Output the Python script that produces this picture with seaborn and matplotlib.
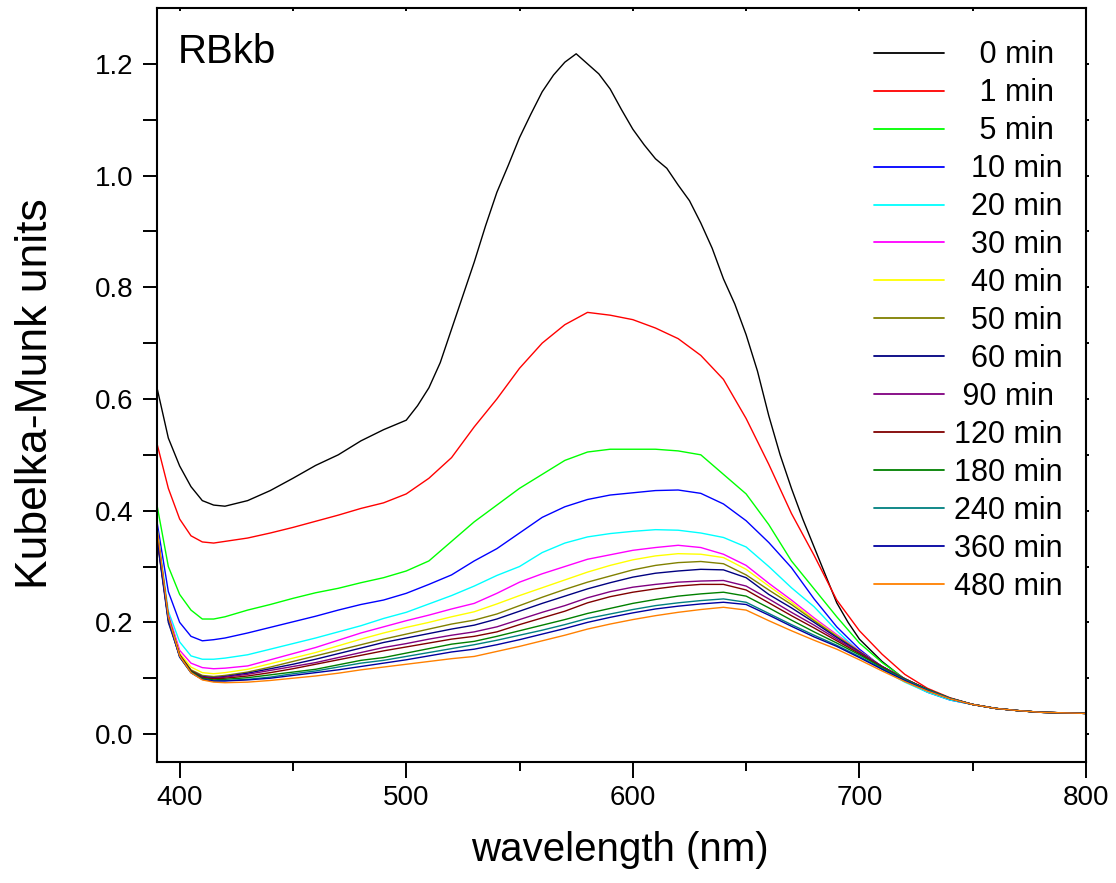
import numpy as np
import pandas as pd
import matplotlib
matplotlib.use("Agg")
import matplotlib.pyplot as plt
import seaborn as sns

# ---------------- data ----------------
wavelength = [390, 395, 400, 405, 410, 415, 420, 430, 440, 450, 460, 470, 480, 490,
              500, 510, 520, 530, 540, 550, 560, 570, 580, 590, 600, 610, 620, 630,
              640, 650, 660, 670, 680, 690, 700, 710, 720, 730, 740, 750, 760, 770,
              780, 790, 800]

# finer sampling for the strongly peaked 0 min spectrum
wavelength_0 = [390, 395, 400, 405, 410, 415, 420, 430, 440, 450, 460, 470, 480, 490,
                500, 505, 510, 515, 520, 525, 530, 535, 540, 545, 550, 555, 560, 565,
                570, 575, 580, 585, 590, 595, 600, 605, 610, 615, 620, 625, 630, 635,
                640, 645, 650, 655, 660, 665, 670, 675, 680, 685, 690, 695, 700, 710,
                720, 730, 740, 750, 760, 770, 780, 790, 800]

labels = ["   0 min", "   1 min", "   5 min", "  10 min", "  20 min", "  30 min",
          "  40 min", "  50 min", "  60 min", " 90 min", "120 min", "180 min",
          "240 min", "360 min", "480 min"]

tail = [0.053, 0.046, 0.042, 0.039, 0.038, 0.037]

km_0 = [0.62, 0.53, 0.48, 0.443, 0.418, 0.41, 0.408, 0.418, 0.436, 0.458, 0.481, 0.50,
        0.525, 0.545, 0.562, 0.588, 0.62, 0.665, 0.725, 0.785, 0.845, 0.91, 0.97, 1.018,
        1.068, 1.11, 1.15, 1.18, 1.203, 1.218, 1.20, 1.182, 1.155, 1.118, 1.083, 1.055,
        1.03, 1.013, 0.983, 0.955, 0.915, 0.87, 0.815, 0.77, 0.715, 0.65, 0.57, 0.50,
        0.44, 0.385, 0.335, 0.285, 0.235, 0.20, 0.17, 0.13, 0.098, 0.077, 0.062] + tail
km_1 = [0.52, 0.44, 0.385, 0.355, 0.344, 0.342, 0.345, 0.351, 0.36, 0.37, 0.381, 0.392,
        0.404, 0.414, 0.43, 0.458, 0.495, 0.55, 0.60, 0.655, 0.70, 0.733, 0.755, 0.75,
        0.742, 0.727, 0.708, 0.678, 0.635, 0.565, 0.483, 0.395, 0.32, 0.24, 0.185,
        0.143, 0.107, 0.082, 0.065] + tail
km_5 = [0.41, 0.30, 0.25, 0.222, 0.206, 0.206, 0.21, 0.222, 0.232, 0.243, 0.253, 0.261,
        0.271, 0.28, 0.292, 0.31, 0.345, 0.38, 0.41, 0.44, 0.465, 0.49, 0.505, 0.51,
        0.51, 0.51, 0.507, 0.50, 0.465, 0.43, 0.375, 0.31, 0.26, 0.21, 0.163, 0.128,
        0.099, 0.078, 0.063] + tail
km_10 = [0.38, 0.255, 0.20, 0.175, 0.167, 0.169, 0.172, 0.181, 0.191, 0.201, 0.211, 0.222,
         0.232, 0.24, 0.252, 0.268, 0.285, 0.31, 0.332, 0.36, 0.388, 0.407, 0.42, 0.428,
         0.432, 0.436, 0.437, 0.431, 0.412, 0.382, 0.343, 0.298, 0.242, 0.192, 0.152,
         0.12, 0.095, 0.075, 0.061] + tail
km_20 = [0.37, 0.22, 0.165, 0.14, 0.134, 0.134, 0.136, 0.142, 0.152, 0.162, 0.172, 0.183,
         0.194, 0.207, 0.218, 0.233, 0.248, 0.265, 0.284, 0.30, 0.325, 0.342, 0.353, 0.359,
         0.363, 0.366, 0.365, 0.36, 0.352, 0.335, 0.30, 0.262, 0.228, 0.185, 0.147,
         0.116, 0.093, 0.075, 0.061] + tail
km_30 = [0.36, 0.215, 0.15, 0.127, 0.119, 0.117, 0.118, 0.122, 0.133, 0.144, 0.155, 0.168,
         0.181, 0.192, 0.203, 0.213, 0.224, 0.234, 0.252, 0.272, 0.287, 0.30, 0.313, 0.321,
         0.329, 0.334, 0.338, 0.334, 0.322, 0.302, 0.27, 0.24, 0.208, 0.178, 0.149, 0.121,
         0.099, 0.08, 0.064] + tail
km_40 = [0.355, 0.21, 0.145, 0.12, 0.11, 0.108, 0.11, 0.116, 0.126, 0.136, 0.146, 0.158,
         0.17, 0.181, 0.191, 0.20, 0.21, 0.219, 0.233, 0.248, 0.262, 0.276, 0.29, 0.302,
         0.312, 0.319, 0.323, 0.322, 0.316, 0.295, 0.265, 0.236, 0.205, 0.176, 0.148,
         0.121, 0.099, 0.08, 0.064] + tail
km_50 = [0.35, 0.205, 0.142, 0.115, 0.105, 0.103, 0.105, 0.111, 0.12, 0.13, 0.14, 0.15,
         0.16, 0.17, 0.179, 0.188, 0.197, 0.204, 0.215, 0.23, 0.245, 0.259, 0.272, 0.283,
         0.294, 0.302, 0.307, 0.309, 0.305, 0.285, 0.258, 0.232, 0.203, 0.175, 0.148,
         0.121, 0.099, 0.08, 0.064] + tail
km_60 = [0.35, 0.20, 0.14, 0.113, 0.103, 0.101, 0.103, 0.109, 0.117, 0.125, 0.134, 0.144,
         0.154, 0.164, 0.172, 0.18, 0.188, 0.195, 0.206, 0.22, 0.234, 0.247, 0.26, 0.271,
         0.281, 0.288, 0.292, 0.295, 0.294, 0.28, 0.25, 0.226, 0.20, 0.173, 0.147, 0.121,
         0.099, 0.08, 0.064] + tail
km_90 = [0.355, 0.205, 0.14, 0.113, 0.102, 0.10, 0.102, 0.107, 0.114, 0.121, 0.128, 0.137,
         0.146, 0.155, 0.162, 0.17, 0.177, 0.183, 0.192, 0.205, 0.218, 0.23, 0.244, 0.255,
         0.263, 0.268, 0.272, 0.274, 0.275, 0.265, 0.242, 0.218, 0.195, 0.17, 0.146,
         0.121, 0.099, 0.08, 0.064] + tail
km_120 = [0.36, 0.21, 0.142, 0.113, 0.101, 0.099, 0.10, 0.104, 0.11, 0.117, 0.125, 0.133,
          0.141, 0.149, 0.156, 0.163, 0.17, 0.175, 0.183, 0.196, 0.208, 0.22, 0.235, 0.246,
          0.254, 0.26, 0.265, 0.268, 0.268, 0.258, 0.235, 0.212, 0.19, 0.167, 0.144,
          0.12, 0.098, 0.08, 0.064] + tail
km_180 = [0.365, 0.21, 0.14, 0.112, 0.10, 0.097, 0.098, 0.101, 0.106, 0.111, 0.116, 0.124,
          0.132, 0.137, 0.145, 0.153, 0.161, 0.166, 0.175, 0.185, 0.195, 0.205, 0.216,
          0.225, 0.234, 0.241, 0.247, 0.251, 0.254, 0.247, 0.226, 0.204, 0.183, 0.163,
          0.142, 0.119, 0.098, 0.08, 0.064] + tail
km_240 = [0.36, 0.205, 0.138, 0.11, 0.098, 0.095, 0.096, 0.098, 0.102, 0.108, 0.113, 0.12,
          0.127, 0.132, 0.139, 0.146, 0.153, 0.16, 0.168, 0.177, 0.186, 0.196, 0.207,
          0.215, 0.223, 0.23, 0.235, 0.239, 0.242, 0.236, 0.216, 0.196, 0.177, 0.159,
          0.139, 0.117, 0.097, 0.079, 0.064] + tail
km_360 = [0.355, 0.205, 0.138, 0.11, 0.098, 0.095, 0.095, 0.097, 0.10, 0.105, 0.11, 0.115,
          0.121, 0.127, 0.133, 0.14, 0.147, 0.152, 0.16, 0.169, 0.179, 0.189, 0.20, 0.209,
          0.217, 0.224, 0.229, 0.233, 0.236, 0.232, 0.213, 0.193, 0.174, 0.157, 0.137,
          0.116, 0.096, 0.078, 0.063] + tail
km_480 = [0.37, 0.21, 0.14, 0.11, 0.097, 0.093, 0.092, 0.093, 0.096, 0.10, 0.104, 0.109,
          0.115, 0.12, 0.125, 0.13, 0.135, 0.139, 0.148, 0.157, 0.167, 0.177, 0.188, 0.197,
          0.205, 0.212, 0.218, 0.223, 0.227, 0.222, 0.203, 0.185, 0.168, 0.152, 0.133,
          0.113, 0.094, 0.077, 0.063] + tail

series = [km_0, km_1, km_5, km_10, km_20, km_30, km_40, km_50, km_60, km_90,
          km_120, km_180, km_240, km_360, km_480]
grids = [wavelength_0] + [wavelength] * 14

colors = ["#000000", "#FF0000", "#00FF00", "#0000FF", "#00FFFF", "#FF00FF", "#FFFF00",
          "#808000", "#000080", "#800080", "#800000", "#008000", "#008080", "#0000A0",
          "#FF8000"]

# ---------------- long-form table ----------------
frames = []
for lab, wl, vals in zip(labels, grids, series):
    frames.append(pd.DataFrame({"wavelength": wl, "km": vals, "time": lab}))
df = pd.concat(frames, ignore_index=True)

# ---------------- plotting ----------------
sns.set_theme(style="ticks")
plt.rcParams["font.family"] = ["Liberation Sans", "DejaVu Sans"]
for k in ["text.color", "axes.labelcolor", "xtick.color", "ytick.color",
          "axes.edgecolor"]:
    plt.rcParams[k] = "black"

fig = plt.figure(figsize=(11.16, 8.83), dpi=100)
ax = fig.add_axes([157 / 1116, (883 - 762) / 883, (1086 - 157) / 1116, (762 - 8) / 883])

sns.lineplot(data=df, x="wavelength", y="km", hue="time", hue_order=labels,
             palette=colors, estimator=None, sort=False, linewidth=1.0, ax=ax,
             legend=True)

ax.set_xlim(390, 800)
ax.set_ylim(-0.05, 1.3)

ax.set_xticks([400, 500, 600, 700, 800])
ax.set_xticks([450, 550, 650, 750], minor=True)
ax.set_yticks([0.0, 0.2, 0.4, 0.6, 0.8, 1.0, 1.2])
ax.set_yticks([0.1, 0.3, 0.5, 0.7, 0.9, 1.1], minor=True)
ax.set_yticklabels(["0.0", "0.2", "0.4", "0.6", "0.8", "1.0", "1.2"])

for s in ax.spines.values():
    s.set_linewidth(1.5)
    s.set_color("black")

ax.tick_params(axis="x", which="major", direction="out", length=11.5, width=1.4,
               labelsize=20, pad=5, colors="black")
ax.tick_params(axis="x", which="minor", direction="out", length=6.5, width=1.4,
               colors="black")
ax.tick_params(axis="y", which="major", direction="out", length=10, width=1.4,
               labelsize=20, pad=7, colors="black")
ax.tick_params(axis="y", which="minor", direction="out", length=10, width=1.4,
               colors="black")

top = ax.secondary_xaxis("top")
top.set_xticks([400, 450, 500, 550, 600, 650, 700, 750, 800])
top.tick_params(direction="in", length=2, width=1.4, labeltop=False, colors="black")
top.spines["top"].set_visible(False)
right = ax.secondary_yaxis("right")
right.set_yticks([0.0, 0.1, 0.2, 0.3, 0.4, 0.5, 0.6, 0.7, 0.8, 0.9, 1.0, 1.1, 1.2])
right.tick_params(direction="out", length=2, width=1.4, labelright=False, colors="black")
right.spines["right"].set_visible(False)

ax.set_xlabel("wavelength (nm)", fontsize=29, color="black")
ax.xaxis.set_label_coords(0.498, -0.091)
ax.xaxis.label.set_va("top")
ax.set_ylabel("Kubelka-Munk units", fontsize=32, color="black")
ax.yaxis.set_label_coords(-0.109, 0.488)

ax.text(0.0226, 0.927, "RBkb", transform=ax.transAxes, fontsize=29,
        ha="left", va="baseline", color="black")

handles, labs = ax.get_legend_handles_labels()
leg = ax.legend(handles, labs, loc="upper right", bbox_to_anchor=(0.975, 0.957),
                frameon=False, fontsize=22, handlelength=2.29, handletextpad=0.33,
                labelspacing=0.26, borderpad=0, borderaxespad=0, labelcolor="black")
for h in leg.get_lines():
    h.set_linewidth(1.3)

fig.savefig("out.png", dpi=100)
